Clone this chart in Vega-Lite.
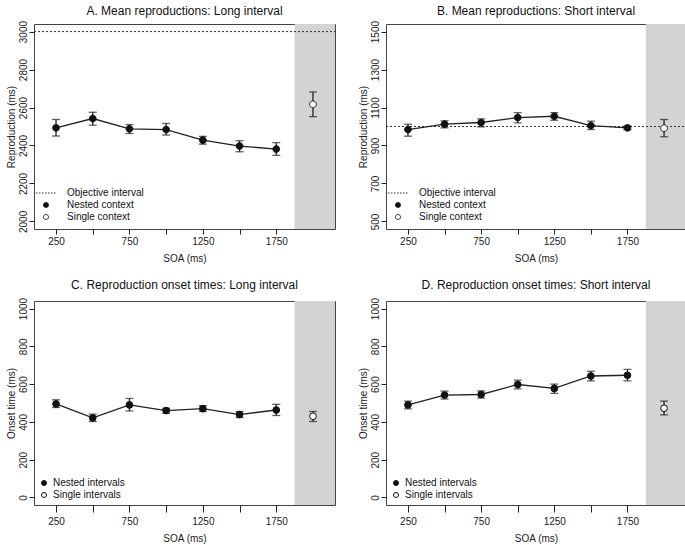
{
  "$schema": "https://vega.github.io/schema/vega-lite/v6.json",
  "padding": {"left": 5, "top": 4, "right": 0, "bottom": 0},
  "background": "white",
  "datasets": {
    "A": [
      {"soa": 250, "mean": 2493, "lo": 2450, "hi": 2537, "series": "Nested context"},
      {"soa": 500, "mean": 2542, "lo": 2507, "hi": 2575, "series": "Nested context"},
      {"soa": 750, "mean": 2488, "lo": 2463, "hi": 2510, "series": "Nested context"},
      {"soa": 1000, "mean": 2484, "lo": 2455, "hi": 2516, "series": "Nested context"},
      {"soa": 1250, "mean": 2428, "lo": 2407, "hi": 2448, "series": "Nested context"},
      {"soa": 1500, "mean": 2397, "lo": 2367, "hi": 2425, "series": "Nested context"},
      {"soa": 1750, "mean": 2381, "lo": 2348, "hi": 2415, "series": "Nested context"},
      {"soa": 2000, "mean": 2617, "lo": 2552, "hi": 2682, "series": "Single context"}
    ],
    "B": [
      {"soa": 250, "mean": 984, "lo": 949, "hi": 1012, "series": "Nested context"},
      {"soa": 500, "mean": 1012, "lo": 993, "hi": 1030, "series": "Nested context"},
      {"soa": 750, "mean": 1021, "lo": 998, "hi": 1040, "series": "Nested context"},
      {"soa": 1000, "mean": 1047, "lo": 1019, "hi": 1073, "series": "Nested context"},
      {"soa": 1250, "mean": 1054, "lo": 1033, "hi": 1073, "series": "Nested context"},
      {"soa": 1500, "mean": 1005, "lo": 984, "hi": 1028, "series": "Nested context"},
      {"soa": 1750, "mean": 993, "lo": 983, "hi": 1002, "series": "Nested context"},
      {"soa": 2000, "mean": 991, "lo": 946, "hi": 1037, "series": "Single context"}
    ],
    "C": [
      {"soa": 250, "mean": 495, "lo": 476, "hi": 517, "series": "Nested intervals"},
      {"soa": 500, "mean": 421, "lo": 402, "hi": 441, "series": "Nested intervals"},
      {"soa": 750, "mean": 490, "lo": 458, "hi": 524, "series": "Nested intervals"},
      {"soa": 1000, "mean": 460, "lo": 446, "hi": 472, "series": "Nested intervals"},
      {"soa": 1250, "mean": 470, "lo": 455, "hi": 486, "series": "Nested intervals"},
      {"soa": 1500, "mean": 439, "lo": 423, "hi": 455, "series": "Nested intervals"},
      {"soa": 1750, "mean": 463, "lo": 434, "hi": 493, "series": "Nested intervals"},
      {"soa": 2000, "mean": 430, "lo": 402, "hi": 455, "series": "Single intervals"}
    ],
    "D": [
      {"soa": 250, "mean": 490, "lo": 469, "hi": 510, "series": "Nested intervals"},
      {"soa": 500, "mean": 542, "lo": 521, "hi": 563, "series": "Nested intervals"},
      {"soa": 750, "mean": 545, "lo": 526, "hi": 564, "series": "Nested intervals"},
      {"soa": 1000, "mean": 598, "lo": 575, "hi": 621, "series": "Nested intervals"},
      {"soa": 1250, "mean": 577, "lo": 551, "hi": 600, "series": "Nested intervals"},
      {"soa": 1500, "mean": 643, "lo": 617, "hi": 668, "series": "Nested intervals"},
      {"soa": 1750, "mean": 647, "lo": 617, "hi": 678, "series": "Nested intervals"},
      {"soa": 2000, "mean": 472, "lo": 437, "hi": 510, "series": "Single intervals"}
    ]
  },
  "columns": 2,
  "spacing": {"row": 14, "column": 21},
  "resolve": {
    "scale": {"shape": "independent", "fill": "independent", "stroke": "independent", "strokeDash": "independent"},
    "legend": {"shape": "independent", "fill": "independent", "stroke": "independent", "strokeDash": "independent"}
  },
  "concat": [
    {
      "title": {"text": "A. Mean reproductions: Long interval"},
      "width": 301, "height": 205,
      "data": {"name": "A"},
      "encoding": {
        "x": {"field": "soa", "type": "quantitative", "title": "SOA (ms)",
              "scale": {"domain": [100, 2150], "nice": false, "zero": false},
              "axis": {"values": [250, 500, 750, 1000, 1250, 1500, 1750], "format": "d", "labelExpr": "datum.value % 500 == 250 ? datum.label : ''"}},
        "y": {"field": "mean", "type": "quantitative", "title": "Reproduction (ms)",
              "scale": {"domain": [1960, 3040], "nice": false, "zero": false},
              "axis": {"values": [2000, 2200, 2400, 2600, 2800, 3000], "format": "d"}}
      },
      "layer": [
        {"transform": [{"filter": "datum.soa == 250"}], "mark": {"type": "rect", "color": "#d3d3d3"},
         "encoding": {"x": {"datum": 1875, "type": "quantitative"}, "x2": {"datum": 2150}, "y": {"datum": 1960, "type": "quantitative"}, "y2": {"datum": 3040}}},
        {"transform": [{"filter": "datum.soa == 250"}], "mark": {"type": "rule", "color": "#333", "strokeDash": [2, 2], "strokeWidth": 1},
         "encoding": {"x": {"datum": 100, "type": "quantitative"}, "x2": {"datum": 2150}, "y": {"datum": 3000, "type": "quantitative"}}},
        {"mark": {"type": "line", "color": "#222", "strokeWidth": 1.3}, "encoding": {"detail": {"field": "series"}}},
        {"mark": {"type": "rule", "color": "#222", "strokeWidth": 1.3}, "encoding": {"y": {"field": "lo", "type": "quantitative"}, "y2": {"field": "hi"}}},
        {"mark": {"type": "tick", "orient": "horizontal", "size": 8, "thickness": 1.3, "color": "#222"}, "encoding": {"y": {"field": "lo", "type": "quantitative"}}},
        {"mark": {"type": "tick", "orient": "horizontal", "size": 8, "thickness": 1.3, "color": "#222"}, "encoding": {"y": {"field": "hi", "type": "quantitative"}}},
        {"mark": {"type": "point", "filled": true, "size": 45, "strokeWidth": 1, "opacity": 1},
         "encoding": {
           "shape": {"field": "series", "type": "nominal", "scale": {"domain": ["Objective interval", "Nested context", "Single context"], "range": ["M-4,0H4", "circle", "circle"]},
                     "legend": {"title": null, "orient": "bottom-left", "offset": 7, "labelOffset": 16}},
           "fill": {"field": "series", "type": "nominal", "scale": {"domain": ["Objective interval", "Nested context", "Single context"], "range": ["transparent", "#111", "white"]},
                     "legend": {"title": null, "orient": "bottom-left", "offset": 7, "labelOffset": 16}},
           "stroke": {"field": "series", "type": "nominal", "scale": {"domain": ["Objective interval", "Nested context", "Single context"], "range": ["#333", "#111", "#111"]},
                     "legend": {"title": null, "orient": "bottom-left", "offset": 7, "labelOffset": 16}},
           "strokeDash": {"field": "series", "type": "nominal", "scale": {"domain": ["Objective interval", "Nested context", "Single context"], "range": [[1.5, 1.5], [1, 0], [1, 0]]},
                     "legend": {"title": null, "orient": "bottom-left", "offset": 7, "labelOffset": 16}}
         }}
      ]
    },
    {
      "title": {"text": "B. Mean reproductions: Short interval"},
      "width": 300, "height": 205,
      "data": {"name": "B"},
      "encoding": {
        "x": {"field": "soa", "type": "quantitative", "title": "SOA (ms)",
              "scale": {"domain": [100, 2150], "nice": false, "zero": false},
              "axis": {"values": [250, 500, 750, 1000, 1250, 1500, 1750], "format": "d", "labelExpr": "datum.value % 500 == 250 ? datum.label : ''"}},
        "y": {"field": "mean", "type": "quantitative", "title": "Reproduction (ms)",
              "scale": {"domain": [460, 1540], "nice": false, "zero": false},
              "axis": {"values": [500, 700, 900, 1100, 1300, 1500], "format": "d"}}
      },
      "layer": [
        {"transform": [{"filter": "datum.soa == 250"}], "mark": {"type": "rect", "color": "#d3d3d3"},
         "encoding": {"x": {"datum": 1875, "type": "quantitative"}, "x2": {"datum": 2150}, "y": {"datum": 460, "type": "quantitative"}, "y2": {"datum": 1540}}},
        {"transform": [{"filter": "datum.soa == 250"}], "mark": {"type": "rule", "color": "#333", "strokeDash": [2, 2], "strokeWidth": 1},
         "encoding": {"x": {"datum": 100, "type": "quantitative"}, "x2": {"datum": 2150}, "y": {"datum": 1000, "type": "quantitative"}}},
        {"mark": {"type": "line", "color": "#222", "strokeWidth": 1.3}, "encoding": {"detail": {"field": "series"}}},
        {"mark": {"type": "rule", "color": "#222", "strokeWidth": 1.3}, "encoding": {"y": {"field": "lo", "type": "quantitative"}, "y2": {"field": "hi"}}},
        {"mark": {"type": "tick", "orient": "horizontal", "size": 8, "thickness": 1.3, "color": "#222"}, "encoding": {"y": {"field": "lo", "type": "quantitative"}}},
        {"mark": {"type": "tick", "orient": "horizontal", "size": 8, "thickness": 1.3, "color": "#222"}, "encoding": {"y": {"field": "hi", "type": "quantitative"}}},
        {"mark": {"type": "point", "filled": true, "size": 45, "strokeWidth": 1, "opacity": 1},
         "encoding": {
           "shape": {"field": "series", "type": "nominal", "scale": {"domain": ["Objective interval", "Nested context", "Single context"], "range": ["M-4,0H4", "circle", "circle"]},
                     "legend": {"title": null, "orient": "bottom-left", "offset": 7, "labelOffset": 16}},
           "fill": {"field": "series", "type": "nominal", "scale": {"domain": ["Objective interval", "Nested context", "Single context"], "range": ["transparent", "#111", "white"]},
                     "legend": {"title": null, "orient": "bottom-left", "offset": 7, "labelOffset": 16}},
           "stroke": {"field": "series", "type": "nominal", "scale": {"domain": ["Objective interval", "Nested context", "Single context"], "range": ["#333", "#111", "#111"]},
                     "legend": {"title": null, "orient": "bottom-left", "offset": 7, "labelOffset": 16}},
           "strokeDash": {"field": "series", "type": "nominal", "scale": {"domain": ["Objective interval", "Nested context", "Single context"], "range": [[1.5, 1.5], [1, 0], [1, 0]]},
                     "legend": {"title": null, "orient": "bottom-left", "offset": 7, "labelOffset": 16}}
         }}
      ]
    },
    {
      "title": {"text": "C. Reproduction onset times: Long interval", "offset": 5},
      "width": 301, "height": 204,
      "data": {"name": "C"},
      "encoding": {
        "x": {"field": "soa", "type": "quantitative", "title": "SOA (ms)",
              "scale": {"domain": [100, 2150], "nice": false, "zero": false},
              "axis": {"values": [250, 500, 750, 1000, 1250, 1500, 1750], "format": "d", "tickSize": 7, "labelPadding": 4, "labelExpr": "datum.value % 500 == 250 ? datum.label : ''"}},
        "y": {"field": "mean", "type": "quantitative", "title": "Onset time (ms)",
              "scale": {"domain": [-40, 1040], "nice": false, "zero": false},
              "axis": {"values": [0, 200, 400, 600, 800, 1000], "format": "d"}}
      },
      "layer": [
        {"transform": [{"filter": "datum.soa == 250"}], "mark": {"type": "rect", "color": "#d3d3d3"},
         "encoding": {"x": {"datum": 1875, "type": "quantitative"}, "x2": {"datum": 2150}, "y": {"datum": -40, "type": "quantitative"}, "y2": {"datum": 1040}}},
        {"mark": {"type": "line", "color": "#222", "strokeWidth": 1.3}, "encoding": {"detail": {"field": "series"}}},
        {"mark": {"type": "rule", "color": "#222", "strokeWidth": 1.3}, "encoding": {"y": {"field": "lo", "type": "quantitative"}, "y2": {"field": "hi"}}},
        {"mark": {"type": "tick", "orient": "horizontal", "size": 8, "thickness": 1.3, "color": "#222"}, "encoding": {"y": {"field": "lo", "type": "quantitative"}}},
        {"mark": {"type": "tick", "orient": "horizontal", "size": 8, "thickness": 1.3, "color": "#222"}, "encoding": {"y": {"field": "hi", "type": "quantitative"}}},
        {"mark": {"type": "point", "filled": true, "size": 45, "strokeWidth": 1, "opacity": 1},
         "encoding": {
           "fill": {"field": "series", "type": "nominal", "scale": {"domain": ["Nested intervals", "Single intervals"], "range": ["#111", "white"]},
                     "legend": {"title": null, "orient": "bottom-left", "offset": 5, "labelOffset": 4}},
           "stroke": {"field": "series", "type": "nominal", "scale": {"domain": ["Nested intervals", "Single intervals"], "range": ["#111", "#111"]},
                     "legend": {"title": null, "orient": "bottom-left", "offset": 5, "labelOffset": 4}}
         }}
      ]
    },
    {
      "title": {"text": "D. Reproduction onset times: Short interval", "offset": 5},
      "width": 300, "height": 204,
      "data": {"name": "D"},
      "encoding": {
        "x": {"field": "soa", "type": "quantitative", "title": "SOA (ms)",
              "scale": {"domain": [100, 2150], "nice": false, "zero": false},
              "axis": {"values": [250, 500, 750, 1000, 1250, 1500, 1750], "format": "d", "tickSize": 7, "labelPadding": 4, "labelExpr": "datum.value % 500 == 250 ? datum.label : ''"}},
        "y": {"field": "mean", "type": "quantitative", "title": "Onset time (ms)",
              "scale": {"domain": [-40, 1040], "nice": false, "zero": false},
              "axis": {"values": [0, 200, 400, 600, 800, 1000], "format": "d"}}
      },
      "layer": [
        {"transform": [{"filter": "datum.soa == 250"}], "mark": {"type": "rect", "color": "#d3d3d3"},
         "encoding": {"x": {"datum": 1875, "type": "quantitative"}, "x2": {"datum": 2150}, "y": {"datum": -40, "type": "quantitative"}, "y2": {"datum": 1040}}},
        {"mark": {"type": "line", "color": "#222", "strokeWidth": 1.3}, "encoding": {"detail": {"field": "series"}}},
        {"mark": {"type": "rule", "color": "#222", "strokeWidth": 1.3}, "encoding": {"y": {"field": "lo", "type": "quantitative"}, "y2": {"field": "hi"}}},
        {"mark": {"type": "tick", "orient": "horizontal", "size": 8, "thickness": 1.3, "color": "#222"}, "encoding": {"y": {"field": "lo", "type": "quantitative"}}},
        {"mark": {"type": "tick", "orient": "horizontal", "size": 8, "thickness": 1.3, "color": "#222"}, "encoding": {"y": {"field": "hi", "type": "quantitative"}}},
        {"mark": {"type": "point", "filled": true, "size": 45, "strokeWidth": 1, "opacity": 1},
         "encoding": {
           "fill": {"field": "series", "type": "nominal", "scale": {"domain": ["Nested intervals", "Single intervals"], "range": ["#111", "white"]},
                     "legend": {"title": null, "orient": "bottom-left", "offset": 5, "labelOffset": 4}},
           "stroke": {"field": "series", "type": "nominal", "scale": {"domain": ["Nested intervals", "Single intervals"], "range": ["#111", "#111"]},
                     "legend": {"title": null, "orient": "bottom-left", "offset": 5, "labelOffset": 4}}
         }}
      ]
    }
  ],
  "config": {
    "font": "Liberation Sans",
    "view": {"stroke": "#444", "strokeWidth": 1},
    "title": {"fontSize": 12, "fontWeight": "normal", "color": "#111", "offset": 2, "anchor": "middle"},
    "axis": {"grid": false, "domain": false, "tickColor": "#222", "tickSize": 5, "tickWidth": 1,
             "labelFontSize": 10, "titleFontSize": 10, "titleFontWeight": "normal",
             "labelColor": "#222", "titleColor": "#222"},
    "axisX": {"labelPadding": 2, "titlePadding": 7},
    "axisY": {"labelAngle": -90, "labelPadding": 1, "titlePadding": 2},
    "legend": {"symbolSize": 25, "symbolStrokeWidth": 1, "labelFontSize": 10, "labelColor": "#111", "rowPadding": 2, "padding": 0}
  }
}
